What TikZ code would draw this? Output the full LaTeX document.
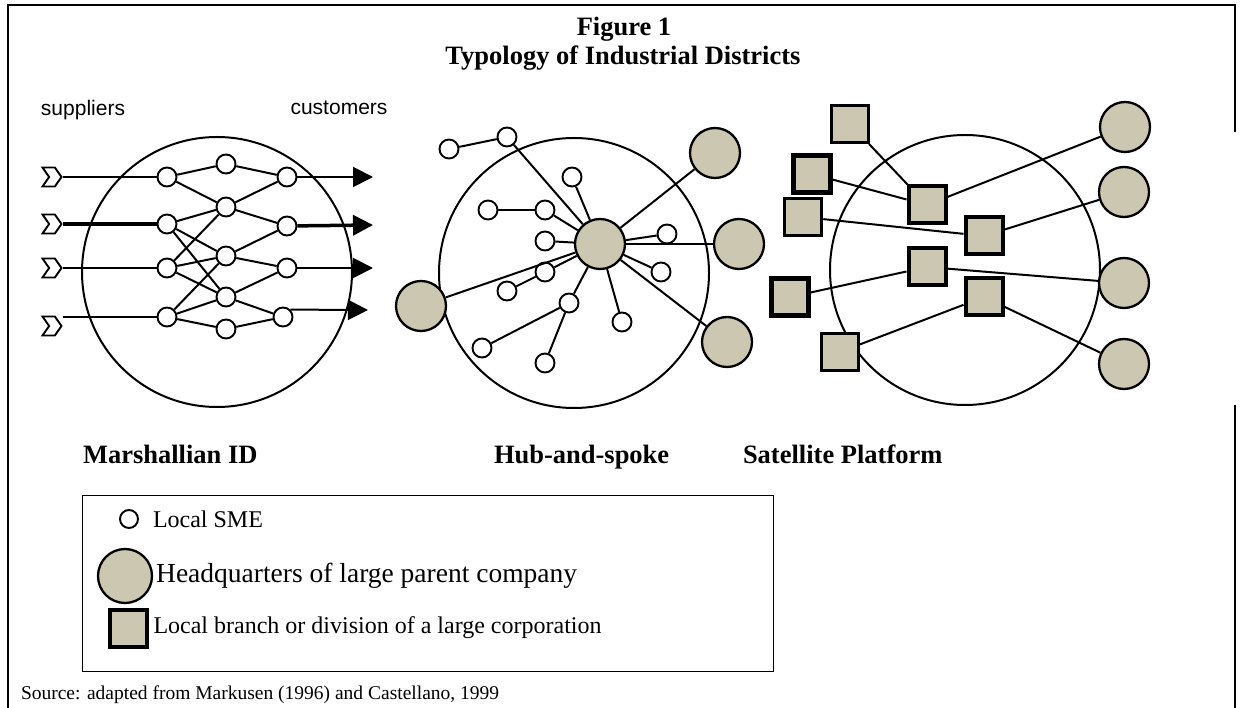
\documentclass[tikz,border=0pt]{standalone}
\usepackage{fontspec}
\setmainfont{Liberation Serif}
\newfontfamily\arialfont{Liberation Sans}
\usetikzlibrary{arrows.meta,shapes.symbols,positioning}
\definecolor{tan}{RGB}{203,199,176}

\begin{document}
\begin{tikzpicture}[x=1pt,y=-1pt,line width=2pt,>={Triangle[length=20pt,width=20pt]},
	sme/.style={circle,draw,fill=white,minimum size=19pt,inner sep=0pt,line width=1.9pt},
	hq/.style={circle,draw,fill=tan,minimum size=50pt,inner sep=0pt,line width=2.3pt},
	branch/.style={draw,fill=tan,minimum size=37pt,inner sep=0pt,line width=4pt},
	supplier/.style={signal,signal from=west,signal to=east,signal pointer angle=110,draw,fill=white,minimum width=19pt,minimum height=19pt,inner sep=0pt,line width=1.9pt},
	district/.style={circle,draw,minimum size=270pt,inner sep=0pt,line width=2pt},
	heading/.style={font=\fontsize{26.5}{30}\selectfont\bfseries,inner sep=0pt},
	legendtext/.style={font=\fontsize{24}{28}\selectfont,inner sep=0pt,anchor=west}]
	\useasboundingbox (0,0) rectangle (1240,708);
	% frame
	\draw[line width=2.5pt] (1235,132) -- (1235,5) -- (8,5) -- (8,708);
	\draw[line width=2.5pt] (1235,405) -- (1235,708);
	\node[heading,anchor=base] (fig) at (624,36) {Figure 1};
	\node[heading,anchor=base] (typ) at (623,65) {Typology of Industrial Districts};

	% Marshallian ID
	\node[font=\arialfont\fontsize{21}{24}\selectfont] (sup) at (83,110) {suppliers};
	\node[font=\arialfont\fontsize{21}{24}\selectfont] (cus) at (339,108) {customers};
	\node[district] (md) at (217,272) {};
	\foreach \i/\y in {1/177,2/224,3/268,4/317} \node[sme] (a\i) at (167,\y) {};
	\foreach \i/\y in {1/164,2/207,3/256,4/297,5/329} \node[sme] (b\i) at (226,\y) {};
	\foreach \i/\x/\y in {1/287/177,2/287/226,3/287/268,4/283/317} \node[sme] (c\i) at (\x,\y) {};
	\foreach \u/\v in {a1/b1,a1/b2,a2/b2,a2/b3,a2/b4,a3/b2,a3/b3,a3/b4,a4/b3,a4/b4,a4/b5,
		b1/c1,b2/c1,b2/c2,b3/c2,b3/c3,b4/c3,b4/c4,b5/c4} \draw (\u) -- (\v);
	\foreach \i/\y in {1/177,2/224,3/268,4/326} \node[supplier] (s\i) at (52,\y) {};
	\draw (s1.east) -- (a1);
	\draw[line width=4pt] (s2.east) -- (a2.west);
	\draw (s3.east) -- (a3);
	\draw (s4.east |- a4) -- (a4);
	\coordinate (o1) at (373,177);
	\coordinate (o2) at (373,225);
	\coordinate (o3) at (373,268);
	\coordinate (o4) at (368,310);
	\draw[->] (c1) -- (o1);
	\draw[->,line width=3.5pt] (c2) -- (o2);
	\draw[->] (c3) -- (o3);
	\draw[->] (c4.north east) -- (o4);

	% Hub-and-spoke
	\node[district] (hd) at (574,273) {};
	\foreach \n/\x/\y in {h1/449/149,h2/507/137,h3/572/177,h4/488/210,h5/545/210,h6/545/241,h7/667/234,
		h8/545/272,h9/507/291,h10/661/272,h11/569/303,h12/622/322,h13/482/348,h14/545/363}
		\node[sme] (\n) at (\x,\y) {};
	\node[hq] (hub) at (600,244) {};
	\node[hq] (hql) at (421,306) {};
	\node[hq] (hqt) at (715,153) {};
	\node[hq] (hqr) at (739,244) {};
	\node[hq] (hqb) at (727,342) {};
	\foreach \u/\v in {h1/h2,h2/hub,h3/hub,h4/h5,h5/hub,h6/hub,hub/h7,hub/hqr,hub/hqt,hub/h8,hub/hql,
		h9/h8,hub/h10,hub/h11,h11/h13,h11/h14,hub/h12,hub/hqb} \draw (\u) -- (\v);

	% Satellite Platform
	\node[district] (sd) at (965,270) {};
	\foreach \n/\x/\y in {p1/1125/127,p2/1124/192,p3/1124/283,p4/1124/364} \node[hq] (\n) at (\x,\y) {};
	\node[branch,line width=3pt] (q1) at (850,124) {};
	\node[branch,line width=3.5pt] (q3) at (803,217) {};
	\node[branch,line width=4.5pt] (q2) at (812,174) {};
	\node[branch] (q4) at (927,205) {};
	\node[branch] (q5) at (984,236) {};
	\node[branch] (q6) at (927,267) {};
	\node[branch,line width=4.5pt] (q7) at (790,297) {};
	\node[branch] (q8) at (984,297) {};
	\node[branch,line width=3pt] (q9) at (840,352) {};
	\foreach \u/\v in {q1/q4,q2/q4,q3/q5,q4/p1,q5/p2,q7/q6,q6/p3,q9/q8,q8/p4} \draw (\u) -- (\v);

	\node[heading,anchor=base west] (mlab) at (82,464) {Marshallian ID};
	\node[heading,anchor=base west] (hlab) at (493,464) {Hub-and-spoke};
	\node[heading,anchor=base west] (slab) at (742,464) {Satellite Platform};

	% legend
	\node[draw,line width=1.3pt,minimum width=691pt,minimum height=176pt,anchor=north west] (legend) at (82,495) {};
	\node[sme,minimum size=18pt] (lsme) at (129,519) {};
	\node[legendtext,font=\fontsize{24}{28}\selectfont] (tsme) at (152,519) {Local SME};
	\node[hq,minimum size=54pt] (lhq) at (125,576) {};
	\node[legendtext,font=\fontsize{27.5}{30}\selectfont,right=2pt of lhq] (thq) {Headquarters of large parent company};
	\node[branch,minimum size=37pt] (lbr) at (128,628) {};
	\node[legendtext,right=4pt of lbr] (tbr) {Local branch or division of a large corporation};

	\node[anchor=base west,inner sep=0pt,font=\fontsize{19.5}{22}\selectfont] (src) at (20,699) {Source: adapted from Markusen (1996) and Castellano, 1999};
\end{tikzpicture}
\end{document}
